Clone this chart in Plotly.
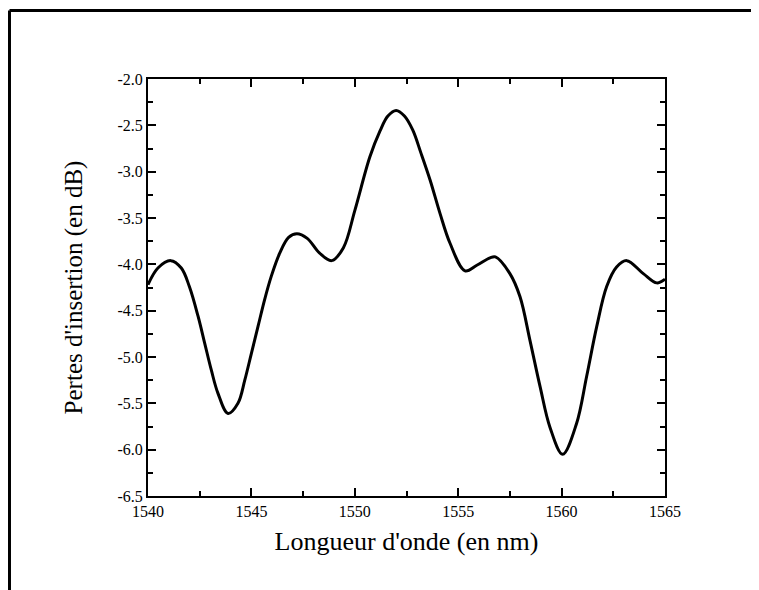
import plotly.graph_objects as go

wavelength_nm = [1540.0, 1540.48, 1541.1, 1541.61, 1542.0, 1542.42, 1542.74, 1543.06, 1543.38,
                 1543.87, 1544.35, 1544.68, 1545.0, 1545.32, 1545.64, 1545.96, 1546.37, 1546.8,
                 1547.2, 1547.7, 1548.3, 1548.88, 1549.45, 1550.0, 1550.73, 1551.22, 1551.6,
                 1552.0, 1552.4, 1552.8, 1553.2, 1553.64, 1554.12, 1554.6, 1555.33, 1555.9,
                 1556.54, 1556.8, 1557.5, 1557.99, 1558.47, 1558.96, 1559.44, 1560.05, 1560.72,
                 1561.21, 1561.7, 1562.18, 1562.66, 1563.15, 1563.95, 1564.6, 1565.0]
insertion_loss_db = [-4.22, -4.04, -3.96, -4.04, -4.24, -4.56, -4.85, -5.14, -5.39,
                     -5.61, -5.50, -5.25, -4.96, -4.67, -4.38, -4.13, -3.88, -3.71,
                     -3.67, -3.72, -3.88, -3.96, -3.82, -3.42, -2.84, -2.56, -2.40,
                     -2.34, -2.40, -2.55, -2.80, -3.09, -3.45, -3.77, -4.07, -4.01,
                     -3.93, -3.92, -4.10, -4.35, -4.82, -5.32, -5.76, -6.05, -5.72,
                     -5.21, -4.67, -4.24, -4.03, -3.96, -4.10, -4.20, -4.16]

x_tick_values = [1540, 1545, 1550, 1555, 1560, 1565]
x_tick_labels = ["1540", "1545", "1550", "1555", "1560", "1565"]
y_tick_values = [-2.0, -2.5, -3.0, -3.5, -4.0, -4.5, -5.0, -5.5, -6.0, -6.5]
y_tick_labels = ["-2.0", "-2.5", "-3.0", "-3.5", "-4.0", "-4.5", "-5.0", "-5.5", "-6.0", "-6.5"]

x_title = "Longueur d'onde (en nm)"
y_title = "Pertes d'insertion (en dB)"

fig = go.Figure()
fig.add_trace(go.Scatter(x=wavelength_nm, y=insertion_loss_db, mode="lines",
                         line=dict(color="black", width=3, shape="spline", smoothing=1.0),
                         showlegend=False, hoverinfo="skip"))

font_family = "Liberation Serif"
axis_common = dict(
    showline=True, linecolor="black", linewidth=2, mirror="allticks",
    ticks="inside", ticklen=8, tickwidth=1.5, tickcolor="black",
    showgrid=False, zeroline=False,
    tickfont=dict(family=font_family, size=16, color="black"),
)
fig.update_xaxes(range=[1540, 1565], tickmode="array", tickvals=x_tick_values, ticktext=x_tick_labels,
                 minor=dict(dtick=2.5, tick0=1540, ticks="inside", ticklen=5, tickwidth=1.5, tickcolor="black"),
                 title=dict(text=x_title, font=dict(family=font_family, size=26, color="black"), standoff=13),
                 **axis_common)
fig.update_yaxes(range=[-6.5, -2.0], tickmode="array", tickvals=y_tick_values, ticktext=y_tick_labels,
                 minor=dict(dtick=0.25, tick0=-2.0, ticks="inside", ticklen=5, tickwidth=1.5, tickcolor="black"),
                 title=dict(text=y_title, font=dict(family=font_family, size=25, color="black"), standoff=28),
                 **axis_common)

# outer frame (left and top edges visible)
fig.add_shape(type="line", xref="paper", yref="paper", x0=-0.2679, x1=-0.2679, y0=-0.5, y1=1.164,
              line=dict(color="black", width=3))
fig.add_shape(type="line", xref="paper", yref="paper", x0=-0.2679, x1=1.5, y0=1.164, y1=1.164,
              line=dict(color="black", width=3))

# page body has an 8px margin, so the figure is sized to fit inside the window
fig.update_layout(width=751, height=582, margin=dict(l=140, r=94, t=71, b=94),
                  plot_bgcolor="white", paper_bgcolor="white",
                  font=dict(family=font_family, color="black"))

fig.write_html("out.html")
